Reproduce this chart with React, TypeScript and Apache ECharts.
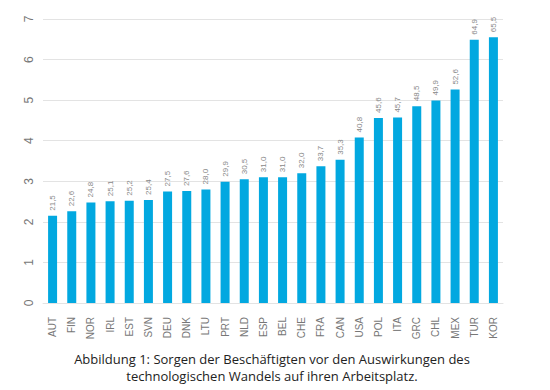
import React, { useEffect, useRef } from "react";
import * as echarts from "echarts";

const categories = ["AUT","FIN","NOR","IRL","EST","SVN","DEU","DNK","LTU","PRT","NLD","ESP","BEL","CHE","FRA","CAN","USA","POL","ITA","GRC","CHL","MEX","TUR","KOR"];
const values = [21.5,22.6,24.8,25.1,25.2,25.4,27.5,27.6,28.0,29.9,30.5,31.0,31.0,32.0,33.7,35.3,40.8,45.6,45.7,48.5,49.9,52.6,64.9,65.5];
const yTickLabels = ["0","1","2","3","4","5","6","7"];
const captionLines = [
  "Abbildung 1: Sorgen der Beschäftigten vor den Auswirkungen des",
  "technologischen Wandels auf ihren Arbeitsplatz.",
];

export default function App() {
  const ref = useRef<HTMLDivElement>(null);
  useEffect(() => {
    document.body.style.margin = "0";
    const chart = echarts.init(ref.current!, null, { renderer: "svg" });
    chart.setOption({
      animation: false,
      graphic: captionLines.map((t, i) => ({
        type: "text",
        x: 272,
        y: 359 + i * 17,
        style: {
          text: t,
          fontFamily: "Open Sans",
          fontSize: 13,
          fill: "#222",
          textAlign: "center",
          textVerticalAlign: "middle",
        },
      })),
      grid: { left: 43, right: 47, top: 19, bottom: 87 },
      xAxis: {
        type: "category",
        data: categories,
        axisTick: { show: false },
        axisLine: { lineStyle: { color: "#e3e3e3" } },
        axisLabel: {
          rotate: 90,
          margin: 14,
          color: "#777",
          fontFamily: "Liberation Sans",
          fontSize: 10,
          interval: 0,
        },
      },
      yAxis: {
        type: "value",
        min: 0,
        max: 70,
        interval: 10,
        axisLine: { show: false },
        axisTick: { show: false },
        splitLine: { lineStyle: { color: "#e3e3e3" } },
        axisLabel: {
          rotate: 90,
          margin: 8,
          color: "#777",
          fontFamily: "Liberation Sans",
          fontSize: 12,
          formatter: (v: number) => yTickLabels[Math.round(v / 10)] ?? "",
        },
      },
      series: [
        {
          type: "bar",
          data: values,
          barWidth: 9,
          itemStyle: { color: "#02a8e0" },
          label: {
            show: true,
            position: "top",
            rotate: 90,
            align: "left",
            verticalAlign: "middle",
            distance: 5,
            color: "#888",
            fontFamily: "Liberation Sans",
            fontSize: 8,
            formatter: (p: any) => p.value.toFixed(1).replace(".", ","),
          },
        },
      ],
    });
    return () => chart.dispose();
  }, []);
  return <div ref={ref} style={{ width: 550, height: 390 }} />;
}
